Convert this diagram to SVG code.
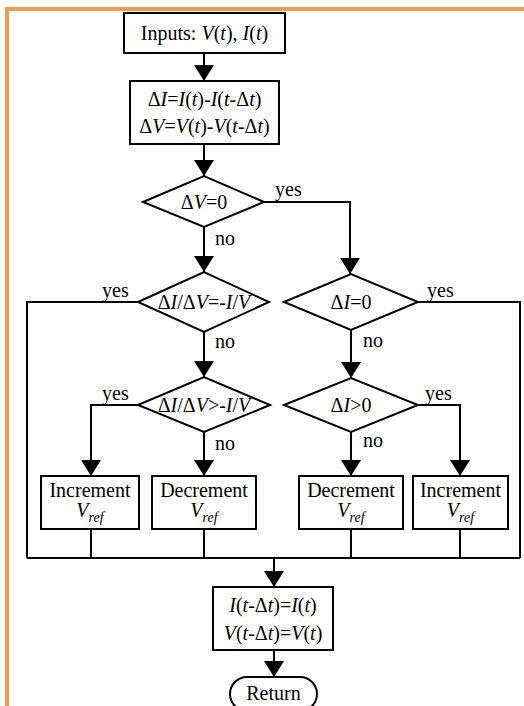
<svg xmlns="http://www.w3.org/2000/svg" width="524" height="706" viewBox="0 0 524 706" font-family="'Liberation Serif', 'Times New Roman', serif">
<defs>
<marker id="ah" markerUnits="userSpaceOnUse" markerWidth="16" markerHeight="20" refX="16" refY="10" orient="auto">
<path d="M0,0 L16,10 L0,20 z" fill="#000"/>
</marker>
<style>
.s{fill:#fff;stroke:#000;stroke-width:2}
.c{fill:none;stroke:#000;stroke-width:2}
.a{marker-end:url(#ah)}
text{font-family:"Liberation Serif","Times New Roman",serif;font-size:20px;fill:#000}
.m{text-anchor:middle}
.i{font-style:italic}
.sub{font-size:14px;font-style:italic}
</style>
</defs>
<rect x="0" y="0" width="524" height="706" fill="#fff"/>
<rect x="5" y="7" width="519" height="4" fill="#F59A4A"/>
<rect x="5" y="7" width="4" height="699" fill="#F59A4A"/>

<g id="connectors">
<path class="c a" d="M204,53 V81"/>
<path class="c a" d="M204,144 V176"/>
<path class="c a" d="M264,202 H350 V274"/>
<path class="c a" d="M204,227 V272"/>
<path class="c" d="M138,302 H27 V558"/>
<path class="c" d="M418,302 H520 V558"/>
<path class="c a" d="M204,332 V377"/>
<path class="c a" d="M351,330 V378"/>
<path class="c a" d="M138,405 H91 V476"/>
<path class="c a" d="M204,432 V476"/>
<path class="c a" d="M351,432 V476"/>
<path class="c a" d="M418,405 H460 V476"/>
<path class="c" d="M91,529 V558 M204,529 V558 M351,529 V558 M460,529 V558"/>
<path class="c" d="M27,558 H520"/>
<path class="c a" d="M274,558 V587"/>
<path class="c a" d="M274,650 V677"/>
<text x="275" y="196">yes</text>
<text x="215" y="245">no</text>
<text x="102" y="297">yes</text>
<text x="427" y="297">yes</text>
<text x="215" y="348">no</text>
<text x="363" y="347">no</text>
<text x="102" y="400">yes</text>
<text x="425" y="400">yes</text>
<text x="215" y="450">no</text>
<text x="363" y="447">no</text>
</g>

<g id="inputs">
<rect class="s" x="124" y="13" width="161" height="40"/>
<text class="m" x="204.5" y="40">Inputs: <tspan class="i">V</tspan>(<tspan class="i">t</tspan>), <tspan class="i">I</tspan>(<tspan class="i">t</tspan>)</text>
</g>

<g id="delta">
<rect class="s" x="130" y="81" width="149" height="63"/>
<text class="m" x="204.5" y="106">Δ<tspan class="i">I</tspan>=<tspan class="i">I</tspan>(<tspan class="i">t</tspan>)-<tspan class="i">I</tspan>(<tspan class="i">t</tspan>-Δ<tspan class="i">t</tspan>)</text>
<text class="m" x="204.5" y="133">Δ<tspan class="i">V</tspan>=<tspan class="i">V</tspan>(<tspan class="i">t</tspan>)-<tspan class="i">V</tspan>(<tspan class="i">t</tspan>-Δ<tspan class="i">t</tspan>)</text>
</g>

<g id="dv0">
<path class="s" d="M143,202 L204,176 L264,202 L204,227 z"/>
<text class="m" x="204" y="209">Δ<tspan class="i">V</tspan>=0</text>
</g>

<g id="didv_eq">
<path class="s" d="M138,302 L204,272 L269,302 L204,332 z"/>
<text class="m" x="204" y="309">Δ<tspan class="i">I</tspan>/Δ<tspan class="i">V</tspan>=-<tspan class="i">I</tspan>/<tspan class="i">V</tspan></text>
</g>

<g id="di0">
<path class="s" d="M284,302 L351,274 L418,302 L351,330 z"/>
<text class="m" x="351" y="309">Δ<tspan class="i">I</tspan>=0</text>
</g>

<g id="didv_gt">
<path class="s" d="M138,405 L204,377 L270,405 L204,432 z"/>
<text class="m" x="204" y="412">Δ<tspan class="i">I</tspan>/Δ<tspan class="i">V</tspan>&gt;-<tspan class="i">I</tspan>/<tspan class="i">V</tspan></text>
</g>

<g id="digt0">
<path class="s" d="M284,405 L351,378 L418,405 L351,432 z"/>
<text class="m" x="351" y="412">Δ<tspan class="i">I</tspan>&gt;0</text>
</g>

<g id="inc1">
<rect class="s" x="41" y="476" width="98" height="53"/>
<text class="m" x="90" y="497">Increment</text>
<text class="m" x="90" y="517"><tspan class="i">V</tspan><tspan class="sub" dy="5">ref</tspan></text>
</g>

<g id="dec1">
<rect class="s" x="152" y="476" width="104" height="53"/>
<text class="m" x="204" y="497">Decrement</text>
<text class="m" x="204" y="517"><tspan class="i">V</tspan><tspan class="sub" dy="5">ref</tspan></text>
</g>

<g id="dec2">
<rect class="s" x="299" y="476" width="104" height="53"/>
<text class="m" x="351" y="497">Decrement</text>
<text class="m" x="351" y="517"><tspan class="i">V</tspan><tspan class="sub" dy="5">ref</tspan></text>
</g>

<g id="inc2">
<rect class="s" x="413" y="476" width="95" height="53"/>
<text class="m" x="460.5" y="497">Increment</text>
<text class="m" x="460.5" y="517"><tspan class="i">V</tspan><tspan class="sub" dy="5">ref</tspan></text>
</g>

<g id="update">
<rect class="s" x="213" y="587" width="120" height="63"/>
<text class="m" x="273" y="612"><tspan class="i">I</tspan>(<tspan class="i">t</tspan>-Δ<tspan class="i">t</tspan>)=<tspan class="i">I</tspan>(<tspan class="i">t</tspan>)</text>
<text class="m" x="273" y="640"><tspan class="i">V</tspan>(<tspan class="i">t</tspan>-Δ<tspan class="i">t</tspan>)=<tspan class="i">V</tspan>(<tspan class="i">t</tspan>)</text>
</g>

<g id="return">
<rect class="s" x="230" y="677" width="87" height="34" rx="17"/>
<text class="m" x="273.5" y="700">Return</text>
</g>
</svg>
